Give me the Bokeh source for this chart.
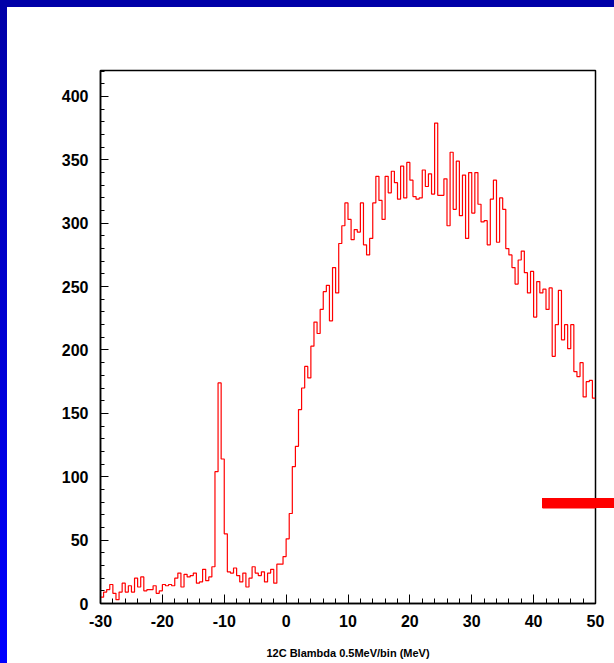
import numpy as np
from bokeh.plotting import figure
from bokeh.models import Range1d, SingleIntervalTicker, BoxAnnotation, Div, InlineStyleSheet
from bokeh.layouts import column, row
from bokeh.embed import file_html
from bokeh.resources import INLINE

# 12C B_Lambda spectrum, 0.5 MeV per bin, from -30 MeV to 50 MeV
bin_lo = -30.0
bin_width = 0.5
counts = [
    5, 9, 11, 15, 8, 3, 9, 16, 9, 14,
    9, 20, 13, 21, 10, 11, 11, 14, 8, 10,
    15, 14, 15, 14, 20, 24, 13, 23, 21, 22,
    24, 16, 17, 27, 18, 21, 29, 104, 174, 114,
    55, 25, 24, 28, 22, 17, 24, 13, 20, 29,
    24, 22, 25, 17, 24, 27, 16, 31, 31, 37,
    51, 71, 108, 124, 153, 170, 187, 178, 203, 222,
    213, 232, 246, 251, 223, 265, 245, 284, 298, 316,
    303, 287, 295, 293, 316, 283, 275, 288, 316, 337,
    318, 303, 337, 324, 341, 332, 319, 345, 320, 348,
    334, 321, 319, 320, 342, 329, 339, 323, 379, 322,
    322, 335, 298, 356, 311, 349, 306, 338, 288, 340,
    308, 340, 315, 301, 302, 283, 319, 334, 285, 320,
    311, 280, 275, 265, 252, 271, 278, 261, 245, 262,
    226, 254, 245, 248, 232, 249, 195, 220, 247, 208,
    220, 201, 220, 183, 179, 190, 163, 175, 176, 162,
]
x_tick_labels = {-30: "-30", -20: "-20", -10: "-10", 0: "0", 10: "10",
                 20: "20", 30: "30", 40: "40", 50: "50"}
x_title = "12C Blambda 0.5MeV/bin (MeV)"

edges = bin_lo + bin_width * np.arange(len(counts) + 1)
levels = counts + [counts[-1]]

FONT = "Liberation Sans"

# red marker bar at the right edge of the slide; it runs past the plot frame,
# so it is drawn as a CSS box on top of the figure canvas
bar_css = InlineStyleSheet(css="""
:host { position: relative; }
:host::after {
  content: "";
  position: absolute;
  left: 535px; top: 491px;
  width: 72px; height: 10px;
  background: #ff0000;
  z-index: 10;
}
""")

p = figure(width=607, height=656,
           x_range=Range1d(-30, 50), y_range=Range1d(0, 420.5),
           output_backend="svg", toolbar_location=None,
           min_border_left=93, min_border_right=19,
           min_border_top=63, min_border_bottom=60,
           stylesheets=[bar_css])
p.background_fill_color = "white"
p.border_fill_color = "white"
p.outline_line_color = "black"
p.outline_line_width = 1.5
p.xgrid.visible = False
p.ygrid.visible = False

p.step(x=edges, y=levels, mode="after", line_color="#ff0000", line_width=1.2)

# ROOT-style axes: ticks pointing into the frame
for ax in (p.xaxis[0], p.yaxis[0]):
    ax.axis_line_color = "black"
    ax.axis_line_width = 1.5
    ax.major_tick_line_color = "black"
    ax.minor_tick_line_color = "black"
    ax.major_tick_out = 0
    ax.minor_tick_out = 0
    ax.major_label_text_font = FONT
    ax.major_label_text_font_style = "bold"
    ax.major_label_text_font_size = "16px"
    ax.major_label_text_color = "black"

p.xaxis.ticker = SingleIntervalTicker(interval=10, num_minor_ticks=5)
p.xaxis.major_label_overrides = x_tick_labels
p.xaxis.major_tick_in = 9
p.xaxis.minor_tick_in = 5
p.xaxis.major_label_standoff = 11
p.xaxis.axis_label = x_title
p.xaxis.axis_label_text_font = FONT
p.xaxis.axis_label_text_font_style = "bold"
p.xaxis.axis_label_text_font_size = "11px"
p.xaxis.axis_label_text_color = "black"
p.xaxis.axis_label_standoff = 17

p.yaxis.ticker = SingleIntervalTicker(interval=50, num_minor_ticks=5)
p.yaxis.major_tick_in = 8
p.yaxis.minor_tick_in = 4
p.yaxis.major_label_standoff = 12

# the in-frame part of the same bar, drawn by bokeh itself
bar = BoxAnnotation(left=535, right=607, top=491, bottom=501,
                    left_units="canvas", right_units="canvas",
                    top_units="canvas", bottom_units="canvas",
                    fill_color="#ff0000", fill_alpha=1.0,
                    line_color=None, level="overlay")
p.add_layout(bar)

top_band = Div(text="", width=614, height=7, margin=0,
               styles={"background": "#0000a8"})
left_band = Div(text="", width=7, height=656, margin=0,
                styles={"background": "linear-gradient(#0000a8, #0000ff)"})

layout = column(top_band, row(left_band, p, spacing=0), spacing=0)

open("out.html", "w").write(file_html(layout, INLINE))
